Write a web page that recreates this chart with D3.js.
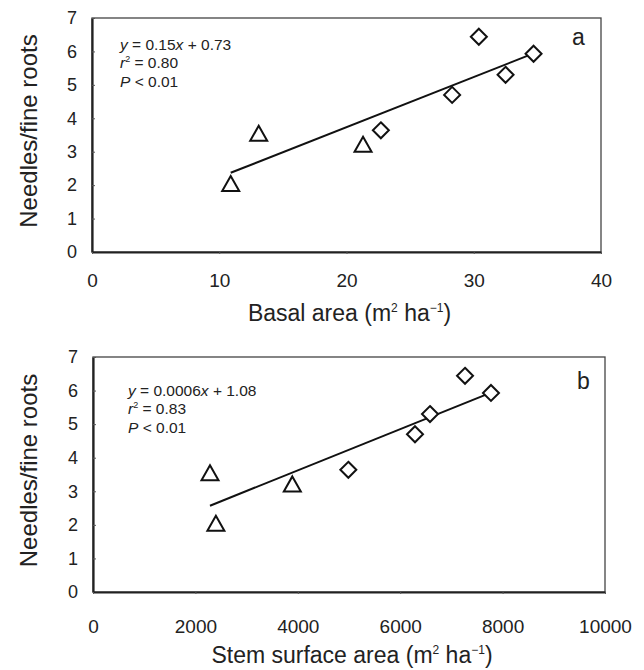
<!DOCTYPE html>
<html>
<head>
<meta charset="utf-8">
<script src="https://cdn.jsdelivr.net/npm/d3@7"></script>
<style>
  body { margin: 0; background: #fff; }
  text { font-family: "Liberation Sans", Arial, sans-serif; fill: #222; }
</style>
</head>
<body>
<div id="chart"></div>
<script>
// stands: first three triangles, last five diamonds
const marker = ["tri", "tri", "tri", "dia", "dia", "dia", "dia", "dia"];
const needlesFineRoots = [2.05, 3.55, 3.22, 3.64, 4.70, 6.44, 5.30, 5.93];
const basalArea = [10.9, 13.1, 21.3, 22.7, 28.3, 30.4, 32.5, 34.7];
const stemSurface = [2400, 2285, 3893, 4987, 6289, 7266, 6582, 7773];

const fitA = { x: [10.9, 34.7], y: [2.37, 5.94] };
const fitB = { x: [2285, 7773], y: [2.57, 5.94] };

const yTicks = [0, 1, 2, 3, 4, 5, 6, 7];
const xTicksA = [0, 10, 20, 30, 40];
const xTicksB = [0, 2000, 4000, 6000, 8000, 10000];

const statsA = ["y = 0.15x + 0.73", "r2 = 0.80", "P < 0.01"];
const statsB = ["y = 0.0006x + 1.08", "r2 = 0.83", "P < 0.01"];

let width = 644, height = 670;

let svg = d3.select("#chart")
  .append("svg")
  .attr("width", width)
  .attr("height", height);

function buildPanel(opt) {
  let x = d3.scaleLinear().domain(opt.xDomain).range([opt.left, opt.right]);
  let y = d3.scaleLinear().domain([0, 7]).range([opt.bottom, opt.top]);
  let g = svg.append("g");

  // frame
  g.append("rect")
    .attr("x", opt.left).attr("y", opt.top)
    .attr("width", opt.right - opt.left).attr("height", opt.bottom - opt.top)
    .attr("fill", "none").attr("stroke", "#444").attr("stroke-width", 1.3);

  let yAxis = g.append("g")
    .attr("transform", `translate(${opt.left},0)`)
    .call(d3.axisLeft(y).tickValues(yTicks).tickFormat(d3.format("d"))
      .tickSizeInner(-3).tickSizeOuter(0).tickPadding(15));
  let xAxis = g.append("g")
    .attr("transform", `translate(0,${opt.bottom})`)
    .call(d3.axisBottom(x).tickValues(opt.xTicks).tickFormat(d3.format("d"))
      .tickSizeInner(2).tickSizeOuter(0).tickPadding(opt.xPad));

  [yAxis, xAxis].forEach(a => {
    a.select(".domain").attr("stroke", "#222").attr("stroke-width", 2.2);
    a.selectAll(".tick line").attr("stroke", "#555").attr("stroke-width", 1);
    a.selectAll(".tick text")
      .style("font-family", '"Liberation Sans", Arial, sans-serif')
      .attr("fill", "#222");
  });
  yAxis.selectAll(".tick text").style("font-size", "18px");
  xAxis.selectAll(".tick text").style("font-size", "19px");

  // fit line
  g.append("line")
    .attr("x1", x(opt.fit.x[0])).attr("y1", y(opt.fit.y[0]))
    .attr("x2", x(opt.fit.x[1])).attr("y2", y(opt.fit.y[1]))
    .attr("stroke", "#111").attr("stroke-width", 2);

  // points
  let tri = "M0,-7.5L8.5,7.5L-8.5,7.5Z";
  let dia = "M0,-8L8,0L0,8L-8,0Z";
  g.selectAll("path.pt")
    .data(needlesFineRoots.map((v, i) => ({ x: opt.xs[i], y: v, m: marker[i] })))
    .join("path")
    .attr("class", "pt")
    .attr("d", d => d.m === "tri" ? tri : dia)
    .attr("transform", d => `translate(${x(d.x)},${y(d.y)})`)
    .attr("fill", "#fff")
    .attr("stroke", "#111")
    .attr("stroke-width", 2)
    .attr("stroke-linejoin", "miter");

  // stats text
  let st = g.append("g").style("font-size", "15.5px");
  let l1 = st.append("text").attr("x", opt.statX).attr("y", opt.statY);
  l1.append("tspan").text("y").style("font-style", "italic");
  l1.append("tspan").text(opt.stats[0].slice(1, opt.stats[0].indexOf("x")));
  l1.append("tspan").text("x").style("font-style", "italic");
  l1.append("tspan").text(opt.stats[0].slice(opt.stats[0].indexOf("x") + 1));

  let l2 = st.append("text").attr("x", opt.statX).attr("y", opt.statY + 18);
  l2.append("tspan").text("r").style("font-style", "italic");
  l2.append("tspan").text("2").attr("dy", -6).style("font-size", "9px");
  l2.append("tspan").text(opt.stats[1].slice(2)).attr("dy", 6);

  let l3 = st.append("text").attr("x", opt.statX).attr("y", opt.statY + 37);
  l3.append("tspan").text("P").style("font-style", "italic");
  l3.append("tspan").text(opt.stats[2].slice(1));

  g.append("text")
    .attr("x", opt.letterX).attr("y", opt.letterY)
    .style("font-size", "23px")
    .text(opt.letter);

  // axis titles
  g.append("text")
    .attr("transform", `translate(37,${(opt.top + opt.bottom) / 2 - 4}) rotate(-90)`)
    .attr("text-anchor", "middle")
    .style("font-size", "24px")
    .text("Needles/fine roots");

  let xt = g.append("text")
    .attr("x", (opt.left + opt.right) / 2 + 3)
    .attr("y", opt.bottom + opt.titleOff)
    .attr("text-anchor", "middle")
    .style("font-size", "23px");
  xt.append("tspan").text(opt.xTitle + " (m");
  xt.append("tspan").text("2").attr("dy", -9).style("font-size", "12px");
  xt.append("tspan").text(" ha").attr("dy", 9);
  xt.append("tspan").text("\u22121").attr("dy", -9).style("font-size", "12px");
  xt.append("tspan").text(")").attr("dy", 9);
}

buildPanel({
  left: 92, right: 601, top: 18, bottom: 252,
  xDomain: [0, 40], xTicks: xTicksA, xs: basalArea, fit: fitA,
  stats: statsA, statX: 120, statY: 50, xPad: 20, titleOff: 69,
  letter: "a", letterX: 572, letterY: 45,
  xTitle: "Basal area"
});

buildPanel({
  left: 93, right: 605, top: 357, bottom: 592,
  xDomain: [0, 10000], xTicks: xTicksB, xs: stemSurface, fit: fitB,
  stats: statsB, statX: 128, statY: 396, xPad: 26, titleOff: 71,
  letter: "b", letterX: 577, letterY: 389,
  xTitle: "Stem surface area"
});
</script>
</body>
</html>
